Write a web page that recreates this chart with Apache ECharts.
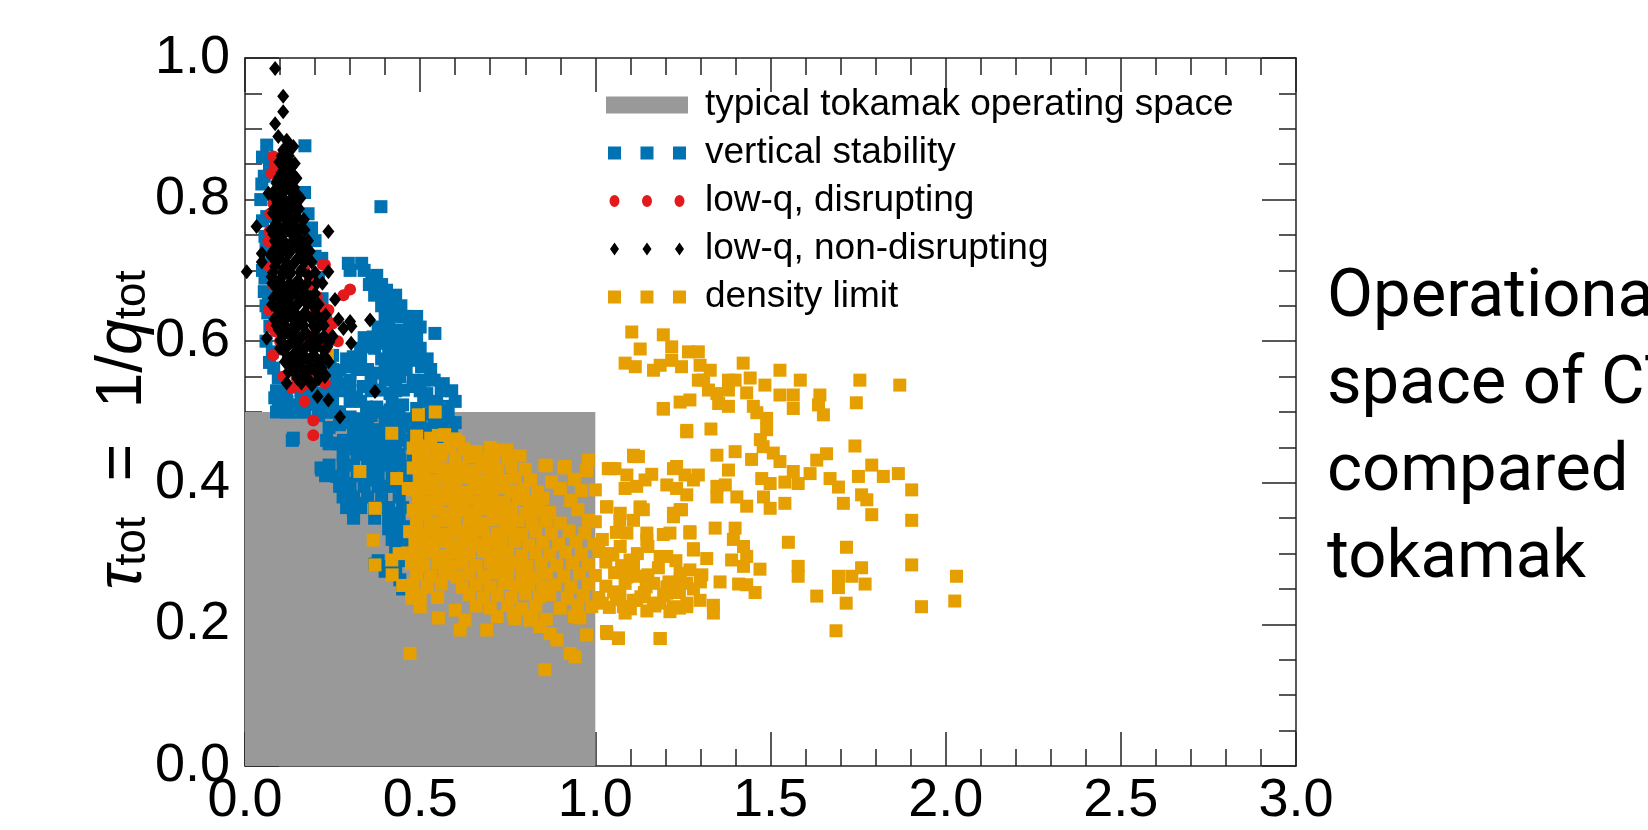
<!DOCTYPE html>
<html><head><meta charset="utf-8">
<script src="https://cdn.jsdelivr.net/npm/echarts@6/dist/echarts.min.js"></script>
<style>html,body{margin:0;padding:0;background:#fff}#c{width:1648px;height:830px}</style>
</head><body><div id="c"></div>
<script>
// ---------- data ----------
const seriesNames = ['typical tokamak operating space','vertical stability','low-q, disrupting','low-q, non-disrupting','density limit'];
const xRange = [0, 3.0];
const yRange = [0, 1.0];
const sideText = ['Operational', 'space of CT', 'compared', 'tokamak'];

// grey box: x 0..1, tau up to 0.5
const operatingSpace = [[0, 0.5], [1.0, 0.5]];

const verticalStability = [
[0.062,0.877],[0.171,0.876],[0.055,0.833],[0.048,0.822],[0.114,0.832],[0.062,0.776],[0.186,0.752],[0.057,0.748],[0.219,0.717],[0.057,0.689],[0.067,0.663],[0.071,0.621],[0.078,0.585],[0.082,0.562],[0.095,0.548],[0.105,0.515],[0.138,0.463],[0.118,0.528],[0.16,0.52],[0.19,0.533],[0.228,0.517],[0.252,0.531],[0.285,0.54],[0.243,0.562],[0.2,0.742],[0.18,0.78],[0.071,0.71],[0.065,0.64],[0.388,0.790],[0.1,0.8],[0.17,0.81],[0.06,0.73],[0.13,0.5],[0.085,0.52],
[0.05,0.86],[0.07,0.85],[0.045,0.8],[0.05,0.77],[0.05,0.7],[0.055,0.67],[0.06,0.6],[0.07,0.57],[0.06,0.65],[0.19,0.76],[0.2,0.72],[0.21,0.69],[0.22,0.66],[0.23,0.63],[0.25,0.58],[0.26,0.55],[0.09,0.53],[0.12,0.515],[0.15,0.51],[0.18,0.51],[0.21,0.51],[0.095,0.505],[0.16,0.5],[0.23,0.5],[0.26,0.5],[0.217,0.421],[0.135,0.46],
[0.295,0.710],[0.333,0.710],[0.362,0.689],[0.376,0.693],[0.385,0.674],[0.404,0.672],[0.423,0.663],[0.414,0.653],[0.452,0.635],[0.476,0.630],[0.442,0.616],[0.542,0.611],
[0.30,0.70],[0.34,0.70],[0.355,0.68],[0.39,0.68],[0.37,0.665],[0.40,0.665],[0.43,0.665],[0.39,0.65],[0.42,0.65],[0.445,0.65],[0.40,0.635],[0.43,0.635],[0.46,0.635],[0.49,0.635],
[0.38,0.62],[0.41,0.62],[0.47,0.62],[0.50,0.62],[0.34,0.605],[0.38,0.605],[0.43,0.605],[0.46,0.605],[0.49,0.605],
[0.33,0.59],[0.37,0.59],[0.41,0.59],[0.44,0.59],[0.47,0.59],[0.50,0.59],
[0.29,0.575],[0.33,0.575],[0.39,0.575],[0.42,0.575],[0.45,0.575],[0.49,0.575],[0.52,0.575],
[0.25,0.56],[0.32,0.56],[0.35,0.56],[0.40,0.56],[0.43,0.56],[0.46,0.56],[0.53,0.56],
[0.22,0.545],[0.26,0.545],[0.30,0.545],[0.36,0.545],[0.40,0.545],[0.43,0.545],[0.51,0.545],[0.54,0.545],
[0.16,0.53],[0.27,0.53],[0.30,0.53],[0.36,0.53],[0.43,0.53],[0.50,0.53],[0.56,0.53],[0.59,0.53],
[0.21,0.515],[0.25,0.515],[0.30,0.515],[0.33,0.515],[0.42,0.515],[0.51,0.515],[0.54,0.515],[0.60,0.515],
[0.09,0.50],[0.12,0.50],[0.17,0.50],[0.24,0.50],[0.27,0.50],[0.39,0.50],[0.44,0.50],[0.58,0.50],
[0.29,0.485],[0.43,0.485],[0.49,0.485],[0.57,0.485],[0.60,0.485],
[0.31,0.47],[0.34,0.47],[0.37,0.47],[0.40,0.47],[0.44,0.47],[0.50,0.47],[0.55,0.47],[0.59,0.47],
[0.24,0.455],[0.27,0.455],[0.31,0.455],[0.34,0.455],[0.37,0.455],[0.40,0.455],[0.43,0.455],[0.47,0.455],[0.52,0.455],
[0.28,0.44],[0.32,0.44],[0.35,0.44],[0.38,0.44],[0.41,0.44],[0.44,0.44],[0.48,0.44],
[0.24,0.425],[0.28,0.425],[0.31,0.425],[0.35,0.425],[0.38,0.425],[0.41,0.425],[0.44,0.425],
[0.23,0.41],[0.28,0.41],[0.32,0.41],[0.35,0.41],[0.38,0.41],[0.42,0.41],[0.46,0.41],
[0.27,0.395],[0.30,0.395],[0.34,0.395],[0.38,0.395],[0.415,0.395],[0.45,0.395],
[0.28,0.38],[0.31,0.38],[0.35,0.38],[0.39,0.38],[0.44,0.38],
[0.29,0.365],[0.33,0.365],[0.37,0.365],[0.41,0.365],[0.45,0.365],
[0.31,0.35],[0.37,0.35],[0.41,0.35],[0.44,0.35],
[0.41,0.335],[0.43,0.335],[0.42,0.32],[0.45,0.32],[0.43,0.305],[0.45,0.305],[0.38,0.29],[0.42,0.29],[0.45,0.29],[0.40,0.275],[0.43,0.275],
[0.366,0.606],[0.357,0.592],[0.395,0.597],[0.414,0.606],[0.433,0.592],[0.457,0.583],[0.480,0.573],[0.504,0.564],
[0.309,0.578],[0.300,0.564],[0.271,0.559],[0.376,0.555],[0.414,0.555],[0.442,0.550],[0.480,0.545],[0.566,0.540],
[0.338,0.536],[0.319,0.521],[0.385,0.531],[0.414,0.526],[0.452,0.531],[0.480,0.536],[0.519,0.526],[0.547,0.512],[0.576,0.508],
[0.195,0.526],[0.224,0.526],[0.243,0.536],
[0.347,0.507],[0.376,0.507],[0.414,0.503],[0.45,0.51],[0.49,0.505],
[0.21,0.495],[0.3,0.493],[0.33,0.49],[0.36,0.495],[0.40,0.488],[0.43,0.494],[0.46,0.49],[0.5,0.492],[0.53,0.497],[0.56,0.49],
[0.24,0.478],[0.27,0.482],[0.32,0.476],[0.35,0.481],[0.38,0.475],[0.41,0.479],[0.44,0.474],[0.47,0.48],[0.51,0.476],[0.54,0.481],[0.58,0.474],
[0.233,0.460],[0.262,0.456],[0.281,0.460],[0.33,0.463],[0.36,0.466],[0.39,0.461],[0.42,0.465],[0.45,0.46],[0.48,0.466],[0.53,0.462],[0.57,0.467],
[0.3,0.448],[0.33,0.45],[0.36,0.446],[0.39,0.451],[0.414,0.442],[0.442,0.432],[0.471,0.423],[0.5,0.447],[0.55,0.45],
[0.219,0.418],[0.262,0.409],[0.290,0.399],[0.366,0.404],[0.395,0.395],[0.44,0.402],
[0.300,0.381],[0.328,0.371],[0.309,0.362],[0.433,0.357],
[0.452,0.338],[0.442,0.319],[0.461,0.300],[0.404,0.282],[0.371,0.285],[0.442,0.263],[0.45,0.25]
];

const lowQDisrupting = [
[0.081,0.861],[0.076,0.837],[0.095,0.835],[0.147,0.790],[0.081,0.795],[0.067,0.741],[0.228,0.708],[0.186,0.691],[0.300,0.673],[0.281,0.665],[0.205,0.663],[0.238,0.644],[0.069,0.644],[0.224,0.635],[0.086,0.614],[0.252,0.602],[0.219,0.557],[0.185,0.540],[0.228,0.541],[0.134,0.534],[0.195,0.488],[0.195,0.467],[0.147,0.548],[0.162,0.580],[0.190,0.672],
[0.1,0.81],[0.12,0.77],[0.09,0.72],[0.15,0.74],[0.08,0.68],[0.17,0.7],[0.13,0.65],[0.2,0.62],[0.1,0.6],[0.17,0.6],[0.13,0.57],[0.23,0.59],[0.11,0.66],[0.07,0.705],[0.16,0.63],[0.25,0.625],[0.21,0.6],[0.222,0.708],
[0.072,0.78],[0.07,0.755],[0.075,0.62],[0.08,0.58],[0.175,0.66],[0.2,0.64],[0.215,0.65],[0.24,0.61],[0.265,0.6],[0.205,0.55],[0.16,0.535],[0.11,0.55],[0.17,0.515],[0.085,0.85],[0.09,0.845]
];

const lowQNonDisrupting = [
[0.086,0.985],[0.109,0.946],[0.109,0.924],[0.086,0.907],[0.095,0.889],[0.119,0.884],[0.138,0.875],[0.109,0.870],[0.114,0.856],[0.147,0.830],[0.147,0.804],[0.067,0.809],[0.09,0.823],[0.033,0.762],[0.238,0.755],[0.005,0.698],[0.048,0.724],[0.048,0.712],[0.238,0.698],[0.221,0.682],[0.257,0.659],[0.192,0.653],[0.267,0.631],[0.300,0.628],[0.304,0.621],[0.357,0.630],[0.062,0.604],[0.303,0.597],[0.100,0.590],[0.114,0.571],[0.124,0.557],[0.157,0.583],[0.204,0.564],[0.152,0.548],[0.119,0.541],[0.228,0.550],[0.371,0.529],[0.207,0.522],[0.238,0.517],[0.271,0.493],[0.281,0.618],[0.224,0.578],[0.195,0.588],[0.185,0.564],[0.147,0.574],
[0.112,0.868],[0.132,0.872],[0.098,0.853],[0.121,0.857],[0.142,0.851],[0.104,0.838],[0.127,0.842],
[0.091,0.826],[0.116,0.822],[0.137,0.828],[0.082,0.811],[0.106,0.808],[0.129,0.813],[0.151,0.806],
[0.093,0.796],[0.117,0.793],[0.139,0.798],[0.079,0.781],[0.101,0.778],[0.126,0.783],[0.148,0.776],
[0.088,0.766],[0.114,0.763],[0.138,0.768],[0.161,0.761],[0.081,0.751],[0.104,0.748],[0.131,0.753],[0.154,0.746],
[0.092,0.736],[0.117,0.733],[0.142,0.738],[0.166,0.731],[0.074,0.721],[0.099,0.718],[0.124,0.723],[0.149,0.716],[0.174,0.721],
[0.086,0.706],[0.111,0.703],[0.136,0.708],[0.161,0.701],[0.076,0.691],[0.101,0.688],[0.126,0.693],[0.151,0.686],[0.181,0.692],
[0.089,0.676],[0.114,0.673],[0.139,0.678],[0.166,0.671],[0.081,0.661],[0.106,0.658],[0.131,0.663],[0.156,0.656],[0.186,0.662],
[0.091,0.646],[0.116,0.643],[0.141,0.648],[0.171,0.641],[0.199,0.647],[0.084,0.631],[0.109,0.628],[0.134,0.633],[0.161,0.626],[0.189,0.632],[0.216,0.627],
[0.096,0.616],[0.121,0.613],[0.146,0.618],[0.176,0.611],[0.204,0.617],[0.101,0.601],[0.131,0.598],[0.156,0.603],[0.186,0.596],[0.214,0.602],[0.241,0.599],
[0.111,0.586],[0.141,0.583],[0.166,0.588],[0.196,0.581],[0.226,0.587],[0.131,0.571],[0.156,0.568],[0.181,0.573],[0.211,0.566],[0.239,0.571],
[0.141,0.556],[0.171,0.553],[0.201,0.558],[0.229,0.552],[0.161,0.541],[0.191,0.538],
[0.105,0.862],[0.125,0.862],[0.11,0.846],[0.133,0.846],[0.098,0.832],[0.121,0.832],[0.143,0.832],
[0.094,0.817],[0.118,0.817],[0.14,0.817],[0.086,0.802],[0.11,0.802],[0.135,0.802],[0.158,0.802],
[0.083,0.787],[0.107,0.787],[0.131,0.787],[0.154,0.787],[0.093,0.772],[0.12,0.772],[0.145,0.772],[0.168,0.772],
[0.075,0.757],[0.098,0.757],[0.122,0.757],[0.146,0.757],[0.17,0.757],[0.085,0.742],[0.11,0.742],[0.136,0.742],[0.16,0.742],[0.18,0.742],
[0.08,0.727],[0.105,0.727],[0.13,0.727],[0.156,0.727],[0.185,0.727],[0.09,0.712],[0.118,0.712],[0.143,0.712],[0.17,0.712],[0.19,0.712],
[0.08,0.697],[0.106,0.697],[0.131,0.697],[0.157,0.697],[0.2,0.697],[0.078,0.682],[0.103,0.682],[0.127,0.682],[0.153,0.682],[0.177,0.682],[0.205,0.682],
[0.095,0.667],[0.12,0.667],[0.145,0.667],[0.172,0.667],[0.2,0.667],[0.077,0.652],[0.1,0.652],[0.125,0.652],[0.15,0.652],[0.178,0.652],[0.21,0.652],
[0.097,0.637],[0.123,0.637],[0.148,0.637],[0.176,0.637],[0.205,0.637],[0.23,0.637],[0.09,0.622],[0.115,0.622],[0.14,0.622],[0.168,0.622],[0.195,0.622],[0.225,0.622],
[0.108,0.607],[0.137,0.607],[0.163,0.607],[0.195,0.607],[0.225,0.607],[0.25,0.607],[0.12,0.592],[0.148,0.592],[0.175,0.592],[0.205,0.592],[0.235,0.592],
[0.122,0.577],[0.147,0.577],[0.172,0.577],[0.2,0.577],[0.23,0.577],[0.133,0.562],[0.162,0.562],[0.19,0.562],[0.218,0.562],[0.15,0.547],[0.18,0.547],[0.21,0.547]
];

const densityLimit = [
[0.235,0.580],[0.495,0.496],[0.543,0.500],[0.419,0.470],[0.328,0.416],[0.433,0.406],[0.466,0.392],[0.371,0.364],[0.366,0.319],[0.371,0.284],[0.419,0.291],[0.481,0.239],[0.476,0.237],[0.552,0.209],[0.628,0.206],[0.614,0.192],[0.690,0.192],[0.471,0.159],[0.856,0.136],[0.928,0.159],[0.942,0.154],[0.975,0.185],[0.871,0.187],[0.89,0.178],[0.813,0.206],[0.842,0.197],[0.766,0.216],[0.956,0.209],[0.44,0.3],[0.42,0.27],[0.45,0.255],[0.5,0.225],[0.6,0.22],
[0.552,0.467],[0.609,0.458],[0.49,0.453],[0.51,0.439],[0.708,0.446],[0.747,0.446],[0.856,0.425],[0.914,0.423],[0.980,0.432],
[0.49,0.466],[0.53,0.463],[0.57,0.468],[0.60,0.462],
[0.48,0.449],[0.515,0.452],[0.55,0.447],[0.585,0.451],[0.625,0.448],[0.66,0.444],[0.70,0.45],[0.735,0.446],
[0.495,0.436],[0.525,0.433],[0.56,0.438],[0.60,0.434],[0.64,0.437],[0.675,0.432],[0.71,0.436],[0.75,0.433],[0.785,0.438],
[0.48,0.421],[0.51,0.418],[0.545,0.423],[0.58,0.419],[0.615,0.422],[0.65,0.417],[0.685,0.421],[0.72,0.418],[0.76,0.423],[0.80,0.419],[0.86,0.424],[0.91,0.421],[0.975,0.417],
[0.50,0.406],[0.535,0.403],[0.565,0.407],[0.60,0.404],[0.635,0.408],[0.665,0.402],[0.70,0.406],[0.735,0.403],[0.77,0.407],[0.815,0.404],[0.875,0.401],[0.94,0.405],
[0.48,0.39],[0.515,0.392],[0.55,0.388],[0.585,0.391],[0.62,0.387],[0.655,0.392],[0.69,0.389],[0.725,0.393],[0.76,0.388],[0.795,0.391],[0.835,0.387],[0.90,0.392],[0.96,0.389],
[0.495,0.376],[0.53,0.373],[0.565,0.377],[0.60,0.374],[0.635,0.378],[0.67,0.373],[0.705,0.376],[0.74,0.372],[0.78,0.377],[0.815,0.374],[0.85,0.378],[0.93,0.375],
[0.48,0.361],[0.515,0.358],[0.55,0.362],[0.585,0.357],[0.62,0.361],[0.655,0.358],[0.69,0.363],[0.725,0.359],[0.76,0.362],[0.80,0.357],[0.835,0.361],[0.87,0.358],[0.95,0.362],
[0.49,0.346],[0.53,0.343],[0.565,0.347],[0.60,0.342],[0.64,0.346],[0.675,0.343],[0.71,0.348],[0.745,0.344],[0.78,0.347],[0.82,0.342],[0.86,0.346],[0.90,0.343],[0.98,0.347],
[0.47,0.331],[0.505,0.328],[0.54,0.332],[0.575,0.327],[0.61,0.331],[0.645,0.328],[0.68,0.333],[0.72,0.329],[0.755,0.332],[0.79,0.327],[0.83,0.331],[0.875,0.328],[0.925,0.332],[0.97,0.329],
[0.485,0.316],[0.52,0.313],[0.555,0.317],[0.59,0.312],[0.625,0.316],[0.66,0.313],[0.695,0.318],[0.73,0.314],[0.77,0.317],[0.81,0.312],[0.85,0.316],[0.895,0.313],[0.945,0.317],[0.995,0.314],
[0.465,0.301],[0.50,0.298],[0.535,0.302],[0.57,0.297],[0.605,0.301],[0.64,0.298],[0.68,0.303],[0.715,0.299],[0.75,0.302],[0.79,0.297],[0.83,0.301],[0.87,0.298],[0.915,0.302],[0.96,0.299],[1.01,0.303],[1.05,0.298],
[0.475,0.286],[0.51,0.283],[0.55,0.287],[0.585,0.282],[0.62,0.286],[0.66,0.283],[0.70,0.288],[0.735,0.284],[0.77,0.287],[0.805,0.282],[0.845,0.286],[0.89,0.283],[0.935,0.287],[0.98,0.284],[1.03,0.288],[1.075,0.283],
[0.49,0.271],[0.53,0.268],[0.57,0.272],[0.605,0.267],[0.64,0.271],[0.68,0.268],[0.715,0.273],[0.75,0.269],[0.79,0.272],[0.825,0.267],[0.86,0.271],[0.91,0.268],[0.955,0.272],[1.0,0.269],[1.055,0.273],[1.115,0.268],
[0.48,0.256],[0.52,0.253],[0.56,0.257],[0.62,0.252],[0.66,0.256],[0.70,0.253],[0.74,0.258],[0.775,0.254],[0.81,0.257],[0.85,0.252],[0.885,0.256],[0.93,0.253],[0.98,0.257],[1.03,0.254],[1.085,0.258],[1.145,0.253],
[0.50,0.241],[0.55,0.238],[0.64,0.242],[0.68,0.237],[0.72,0.241],[0.76,0.238],[0.80,0.243],[0.84,0.239],[0.87,0.242],[0.92,0.237],[0.965,0.241],[1.01,0.238],[1.07,0.242],[1.13,0.239],[1.195,0.241],
[0.66,0.226],[0.70,0.223],[0.75,0.227],[0.79,0.222],[0.83,0.226],[0.90,0.223],[0.95,0.227],[1.04,0.224],[1.10,0.222],[1.17,0.226],[1.24,0.223],
[0.72,0.211],[0.77,0.208],[0.82,0.212],[0.86,0.207],[0.94,0.211],
[1.02,0.32],[1.06,0.33],[1.0,0.345],[1.15,0.27],[1.18,0.28],[1.21,0.26],[1.23,0.29],[1.12,0.3],[1.14,0.245],[1.24,0.245],[1.28,0.25],[1.3,0.26],[1.02,0.23],[1.06,0.235],[0.99,0.225],[1.15,0.31],
[1.042,0.420],[1.09,0.411],[1.11,0.437],[1.194,0.505],[1.261,0.472],[1.232,0.423],[1.28,0.404],[1.0,0.390],[1.128,0.366],[1.223,0.352],[1.242,0.362],[1.194,0.327],[1.27,0.329],[1.28,0.305],[1.032,0.366],[1.07,0.347],[1.032,0.190],[1.066,0.181],[1.185,0.180],[1.08,0.225],[1.108,0.234],[1.166,0.230],[1.223,0.225],[1.261,0.230],[1.204,0.253],[1.242,0.263],[1.27,0.277],
[1.104,0.613],[1.194,0.609],[1.128,0.589],[1.218,0.592],[1.085,0.569],[1.114,0.564],[1.166,0.559],[1.185,0.566],[1.246,0.564],[1.266,0.585],[1.294,0.585],[1.218,0.573],[1.299,0.566],[1.328,0.559],[1.309,0.545],[1.294,0.545],[1.323,0.531],[1.347,0.526],[1.352,0.512],[1.380,0.508],[1.380,0.545],[1.399,0.545],[1.380,0.531],[1.422,0.569],[1.442,0.548],[1.432,0.527],[1.484,0.538],[1.527,0.559],[1.585,0.545],[1.527,0.524],[1.565,0.524],[1.565,0.505],[1.451,0.508],[1.461,0.499],[1.489,0.491],[1.489,0.475],[1.471,0.461],[1.641,0.524],[1.637,0.510],[1.651,0.496],[1.755,0.545],[1.745,0.513],[1.869,0.538],[1.194,0.504],[1.242,0.514],[1.27,0.517],[1.261,0.474],[1.33,0.476],[1.347,0.439],[1.399,0.444],[1.446,0.433],[1.479,0.451],[1.508,0.442],[1.527,0.430],[1.565,0.416],[1.541,0.401],[1.579,0.399],[1.613,0.413],[1.632,0.432],[1.66,0.441],[1.741,0.452],[1.670,0.406],[1.694,0.394],[1.708,0.371],[1.751,0.409],[1.789,0.425],[1.822,0.409],[1.865,0.413],[1.760,0.383],[1.775,0.376],[1.789,0.355],[1.903,0.390],[1.903,0.347],[1.475,0.406],[1.499,0.399],[1.480,0.380],[1.499,0.364],[1.404,0.380],[1.432,0.367],[1.541,0.371],[1.347,0.395],[1.371,0.397],[1.347,0.380],[1.380,0.418],[1.223,0.420],[1.256,0.411],[1.294,0.411],[1.232,0.392],[1.223,0.357],[1.246,0.362],[1.109,0.439],[1.123,0.437],[1.037,0.420],[1.056,0.420],[1.085,0.392],[1.118,0.395],[1.142,0.404],[1.161,0.412],[1.204,0.397],[1.128,0.364],[1.261,0.383],[1.342,0.336],[1.399,0.336],[1.551,0.316],[1.717,0.309],[1.903,0.284],[2.031,0.268],[2.026,0.233],[1.931,0.225],[1.760,0.280],[1.732,0.268],[1.694,0.268],[1.770,0.257],[1.694,0.252],[1.716,0.230],[1.632,0.240],[1.579,0.282],[1.579,0.268],[1.687,0.191],[1.470,0.278],[1.432,0.256],[1.456,0.245],[1.389,0.291],[1.423,0.282],[1.394,0.320],[1.423,0.310],[1.432,0.296],[1.409,0.257],[1.280,0.307],[1.318,0.293],[1.304,0.270],[1.356,0.260],[1.337,0.227],[1.337,0.216],[1.185,0.296],[1.204,0.296],[1.147,0.319],[1.213,0.329],[1.270,0.331],[1.242,0.272],[1.261,0.258],[1.166,0.258],[1.204,0.244],[1.185,0.230],[1.261,0.225],[1.299,0.234],[1.213,0.218],[1.147,0.219],[1.118,0.234],[1.085,0.216],[1.033,0.187],[1.066,0.180],[1.185,0.180],[1.052,0.246],[1.09,0.267],[1.109,0.282],[1.042,0.300],[1.071,0.310],[1.099,0.291],[1.033,0.366],[1.071,0.357],[1.109,0.347],[1.09,0.329],[1.137,0.362],[1.147,0.329]
];

// ---------- fonts ----------
function hasFont(name) {
  const ctx = document.createElement('canvas').getContext('2d');
  const s = '0123456789.abcdefghij';
  ctx.font = '50px monospace'; const a = ctx.measureText(s).width;
  ctx.font = "50px '" + name + "', monospace"; const b = ctx.measureText(s).width;
  ctx.font = '50px serif'; const c = ctx.measureText(s).width;
  ctx.font = "50px '" + name + "', serif"; const d = ctx.measureText(s).width;
  return a !== b || c !== d;
}
const FONT = "'Liberation Sans', Arial, Helvetica, sans-serif";
const NARROW_OK = hasFont('Liberation Sans Narrow');
const TICK_FONT = NARROW_OK ? "'Liberation Sans Narrow', " + FONT : FONT;
const TICK_SIZE = NARROW_OK ? 62 : 54;

// ---------- chart ----------
const AX = '#222';
const C = {grey:'#999999', blue:'#0072B2', red:'#E3191C', black:'#000000', orange:'#E69F00'};

const iconSquares = 'path://M0,0L0.01,0Z M82,17L82.01,17Z M2,2h13v13h-13Z M34.5,2h13v13h-13Z M67,2h13v13h-13Z';
const iconCircles = 'path://M0,0L0.01,0Z M82,17L82.01,17Z M3.5,8.5a5,6 0 1,0 10,0a5,6 0 1,0 -10,0Z M36,8.5a5,6 0 1,0 10,0a5,6 0 1,0 -10,0Z M68.5,8.5a5,6 0 1,0 10,0a5,6 0 1,0 -10,0Z';
const iconDiamonds = 'path://M0,0L0.01,0Z M82,17L82.01,17Z M8.5,2L13,8.5L8.5,15L4,8.5Z M41,2L45.5,8.5L41,15L36.5,8.5Z M73.5,2L78,8.5L73.5,15L69,8.5Z';

function xAx(pos, showLabel) {
  return {type:'value', position:pos, min:xRange[0], max:xRange[1], interval:0.5,
    axisLine:{show:true, onZero:false, lineStyle:{color:AX, width:1.5}},
    axisTick:{show:true, inside:true, length:34, lineStyle:{color:AX, width:1.5}},
    minorTick:{show:true, splitNumber:5, length:17, lineStyle:{color:AX, width:1.5}},
    splitLine:{show:false}, minorSplitLine:{show:false},
    axisLabel:{show:showLabel, fontSize:TICK_SIZE, color:'#000', fontFamily:TICK_FONT, margin:8, formatter:v=>v.toFixed(1)}};
}
function yAx(pos, showLabel) {
  return {type:'value', position:pos, min:yRange[0], max:yRange[1], interval:0.2,
    axisLine:{show:true, onZero:false, lineStyle:{color:AX, width:1.5}},
    axisTick:{show:true, inside:true, length:34, lineStyle:{color:AX, width:1.5}},
    minorTick:{show:true, splitNumber:4, length:17, lineStyle:{color:AX, width:1.5}},
    splitLine:{show:false}, minorSplitLine:{show:false},
    axisLabel:{show:showLabel, fontSize:TICK_SIZE, color:'#000', fontFamily:TICK_FONT, margin:15, formatter:v=>v.toFixed(1)}};
}

const chart = echarts.init(document.getElementById('c'), null, {renderer:'canvas'});
const sideGraphics = sideText.map((t, i) => ({
  type:'text', x:1327, y:299 + i*87,
  style:{text:t, fontSize:67, fontFamily:"Roboto, Lato, sans-serif", fill:'#000', align:'left', verticalAlign:'middle'}
}));

chart.setOption({
  animation:false,
  backgroundColor:'#fff',
  grid:{left:245, top:58, width:1051, height:708, containLabel:false},
  xAxis:[xAx('bottom', true), xAx('top', false)],
  yAxis:[yAx('left', true), yAx('right', false)],
  legend:{
    orient:'vertical', left:601, top:80, itemWidth:82, itemHeight:17, itemGap:8,
    textStyle:{fontSize:37, fontFamily:FONT, color:'#000', lineHeight:40, padding:[0,0,0,12]},
    data:[
      {name:seriesNames[0], icon:'rect', itemStyle:{color:C.grey}},
      {name:seriesNames[1], icon:iconSquares},
      {name:seriesNames[2], icon:iconCircles},
      {name:seriesNames[3], icon:iconDiamonds},
      {name:seriesNames[4], icon:iconSquares}
    ]
  },
  graphic:[
    {type:'text', x:117, y:430, rotation:Math.PI/2,
     style:{text:'{i|τ}{s|tot}{n|  =  1/}{i|q}{s|tot}', align:'center', verticalAlign:'middle',
       rich:{
         n:{fontSize:64, fontFamily:FONT, fill:'#000', lineHeight:76, verticalAlign:'bottom'},
         i:{fontSize:64, fontFamily:FONT, fontStyle:'italic', fill:'#000', lineHeight:76, verticalAlign:'bottom'},
         s:{fontSize:44, fontFamily:FONT, fill:'#000', lineHeight:36, verticalAlign:'bottom'}
       }}}
  ].concat(sideGraphics),
  series:[
    {name:seriesNames[0], type:'line', data:operatingSpace, symbol:'none', silent:true,
     lineStyle:{width:0, color:C.grey}, itemStyle:{color:C.grey}, areaStyle:{color:C.grey, opacity:1}, z:1},
    {name:seriesNames[1], type:'scatter', data:verticalStability, symbol:'rect', symbolSize:13,
     itemStyle:{color:C.blue, opacity:1}, z:2},
    {name:seriesNames[4], type:'scatter', data:densityLimit, symbol:'rect', symbolSize:13,
     itemStyle:{color:C.orange, opacity:1}, z:3},
    {name:seriesNames[2], type:'scatter', data:lowQDisrupting, symbol:'circle', symbolSize:12,
     itemStyle:{color:C.red, opacity:1}, z:4},
    {name:seriesNames[3], type:'scatter', data:lowQNonDisrupting, symbol:'diamond', symbolSize:[12,15],
     itemStyle:{color:C.black, opacity:1}, z:5}
  ]
});
</script>
</body></html>
